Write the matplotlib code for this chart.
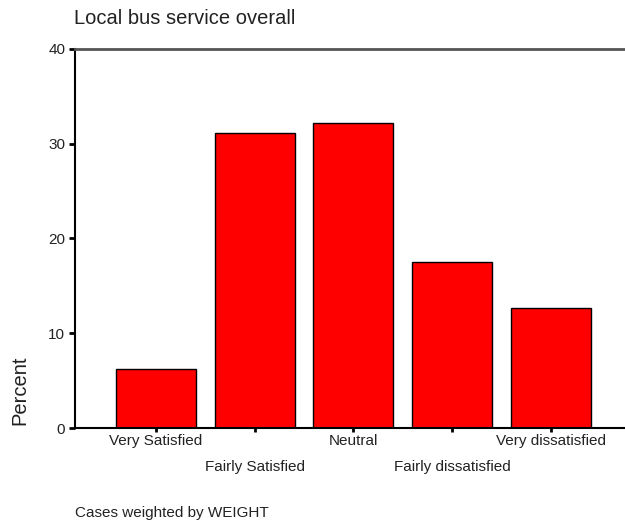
import matplotlib
matplotlib.use("Agg")
import matplotlib.pyplot as plt

plt.rcParams['font.family'] = ['Liberation Sans', 'DejaVu Sans']

# data
categories = ['Very Satisfied', 'Fairly Satisfied', 'Neutral',
              'Fairly dissatisfied', 'Very dissatisfied']
percent = [6.2, 31.1, 32.2, 17.5, 12.7]
yticks = [0, 10, 20, 30, 40]

fig = plt.figure(figsize=(6.25, 5.24), dpi=100)
ax = fig.add_axes([0.12, 0.1832, 0.88, 0.7233])

x = list(range(len(categories)))
ax.bar(x, percent, width=0.81, color='#ff0000', edgecolor='black', linewidth=1)

ax.set_xlim(-0.82, 4.75)
ax.set_ylim(0, 40)
ax.set_yticks(yticks)
ax.set_yticklabels([str(v) for v in yticks], fontsize=11, color='#222222')
ax.tick_params(axis='y', direction='out', length=4, width=2, color='black', pad=3)

ax.set_xticks(x)
ax.set_xticklabels([''] * len(categories))
ax.tick_params(axis='x', direction='out', length=3, width=2, color='black')

# staggered category labels
for i, name in enumerate(categories):
    off = -13 if i % 2 == 0 else -39
    ax.annotate(name, xy=(i, 0), xycoords=('data', 'axes fraction'),
                xytext=(0, off * 0.72), textcoords='offset points',
                ha='center', va='center', fontsize=11, color='#222222')

ax.spines['right'].set_visible(False)
ax.spines['top'].set_color('#555555')
ax.spines['top'].set_linewidth(2)
ax.spines['left'].set_color('black')
ax.spines['left'].set_linewidth(1.5)
ax.spines['bottom'].set_color('black')
ax.spines['bottom'].set_linewidth(1.5)

fig.text(74 / 625, 1 - 18 / 524, 'Local bus service overall',
         ha='left', va='center', fontsize=14.5, color='#222222')
fig.text(20 / 625, 1 - 390 / 524, 'Percent', rotation=90,
         ha='center', va='center', fontsize=14.5, color='#222222')
fig.text(75 / 625, 1 - 513 / 524, 'Cases weighted by WEIGHT',
         ha='left', va='center', fontsize=11, color='#222222')

fig.savefig('out.png', dpi=100)
